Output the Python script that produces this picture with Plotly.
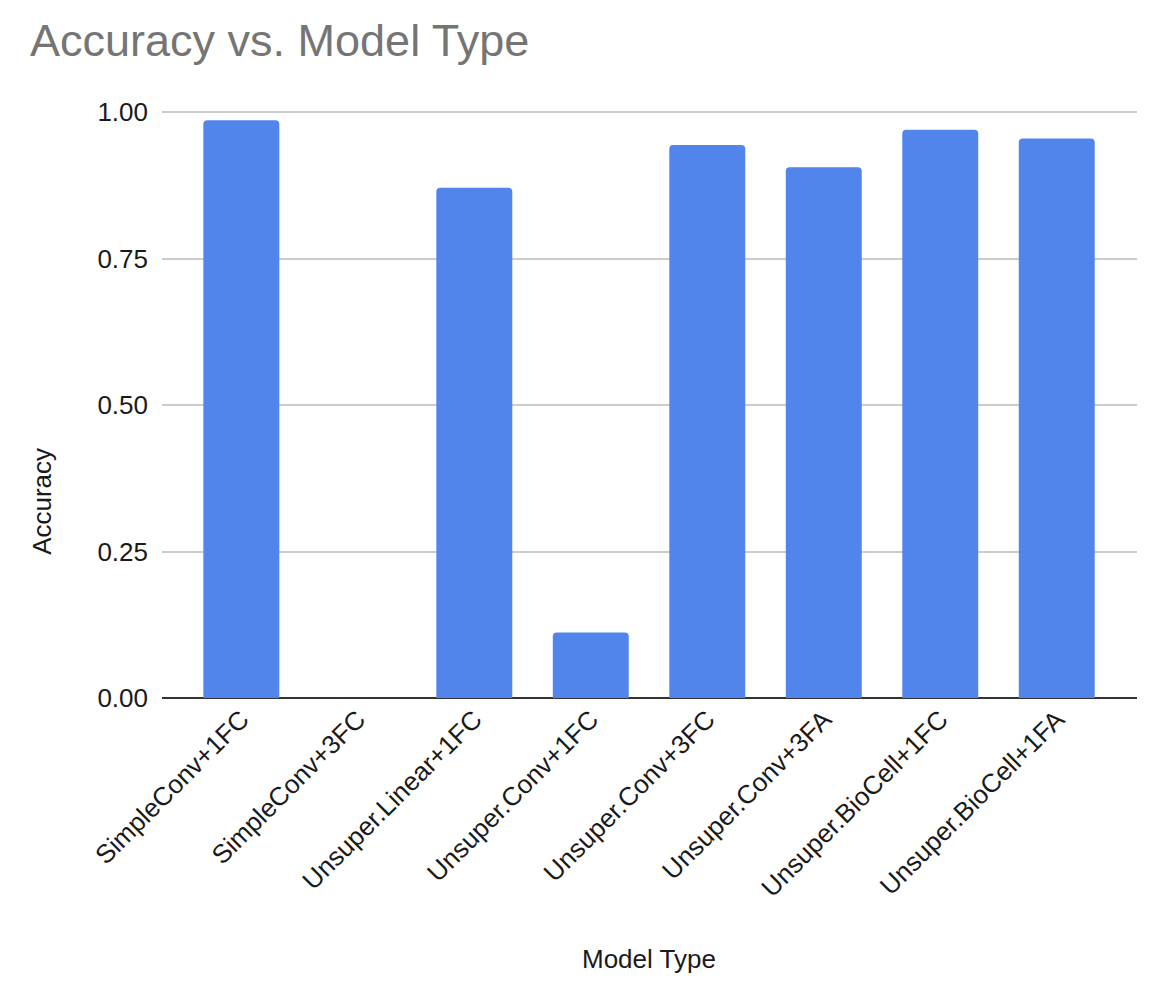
import plotly.graph_objects as go

categories = ["SimpleConv+1FC", "SimpleConv+3FC", "Unsuper.Linear+1FC", "Unsuper.Conv+1FC",
              "Unsuper.Conv+3FC", "Unsuper.Conv+3FA", "Unsuper.BioCell+1FC", "Unsuper.BioCell+1FA"]
accuracy = [0.986, 0.0, 0.871, 0.112, 0.944, 0.906, 0.970, 0.955]
y_ticks = [0, 0.25, 0.5, 0.75, 1.0]
y_tick_labels = ["0.00", "0.25", "0.50", "0.75", "1.00"]

FONT = "Liberation Sans, Arial, sans-serif"
TXT = "#1a1a1a"

fig = go.Figure(go.Bar(x=list(range(len(categories))), y=accuracy,
                       marker=dict(color="#5185EC", line=dict(width=0))))

# the page body adds an 8px margin, so the figure is sized / offset to compensate
fig.update_layout(
    width=1146, height=978,
    margin=dict(l=154, r=17, t=103, b=288),
    paper_bgcolor="white", plot_bgcolor="white",
    bargap=0.348,
    barcornerradius=4,
    showlegend=False,
    font=dict(family=FONT, size=26, color=TXT),
    title=dict(text="Accuracy vs. Model Type", x=0.0192, xanchor="left", y=0.967, yanchor="middle",
               font=dict(family=FONT, size=45, color="#757575")),
)
fig.update_xaxes(
    tickmode="array", tickvals=list(range(len(categories))), ticktext=categories,
    tickangle=-45, range=[-0.681, 7.689], showgrid=False, zeroline=False,
    showline=False, ticks="", tickfont=dict(size=26, color=TXT),
)
fig.update_yaxes(
    tickmode="array", tickvals=y_ticks, ticktext=y_tick_labels, range=[0, 1.002],
    showgrid=True, gridcolor="#cccccc", gridwidth=1.5, zeroline=True, zerolinecolor="#333333",
    zerolinewidth=2, showline=False, ticks="", ticklabelstandoff=13,
    tickfont=dict(size=26, color=TXT),
)
fig.add_annotation(text="Accuracy", xref="paper", yref="paper", x=-0.140, y=0.335, textangle=-90,
                   showarrow=False, font=dict(family=FONT, size=26, color=TXT))
fig.add_annotation(text="Model Type", xref="paper", yref="paper", x=0.499, y=-0.473,
                   showarrow=False, font=dict(family=FONT, size=26, color=TXT))

fig.write_html("out.html")
